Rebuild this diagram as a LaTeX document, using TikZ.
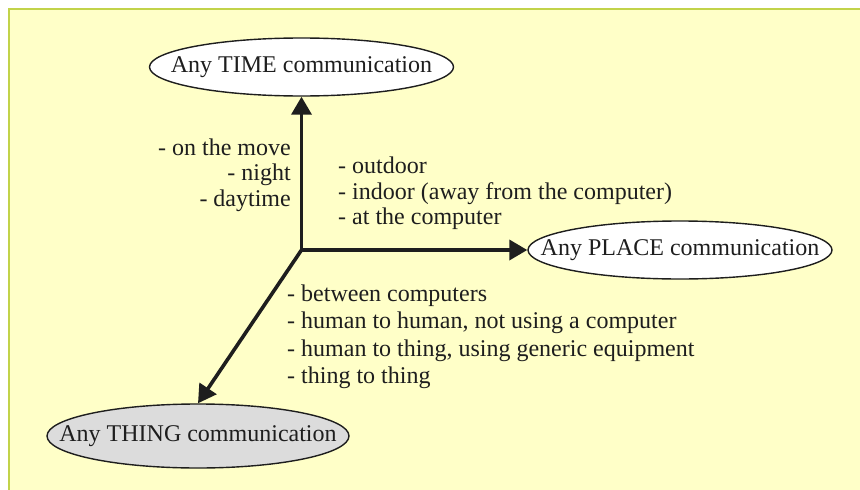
\documentclass[tikz,border=0pt]{standalone}
\usepackage{fontspec}
\setmainfont{Liberation Serif}
\usetikzlibrary{shapes.geometric,arrows.meta}
\definecolor{panelfill}{HTML}{FFFFC8}
\definecolor{panelrule}{HTML}{C2D34A}
\definecolor{ink}{HTML}{1E1E1E}
\definecolor{thingfill}{HTML}{DCDCDC}
\begin{document}
\begin{tikzpicture}[x=1pt,y=-1pt,
  font=\fontsize{24}{28}\selectfont,
  % tight ellipse: the minimum sizes fix the outline, not the text box
  goal/.style={ellipse, draw=ink, line width=1.4pt, minimum width=304pt,
    minimum height=58pt, inner xsep=-40pt, inner ysep=0pt, text=ink},
  axis/.style={line width=3.6pt, draw=ink, line cap=rect,
    -{Triangle[length=18pt,width=20pt]}},
  notes/.style={text=ink, inner sep=0pt}]
\useasboundingbox (0,0) rectangle (860,490);
\fill[white] (0,0) rectangle (860,490);
% panel
\draw[panelrule, fill=panelfill, line width=2pt] (9,9) rectangle (880,510);

% the three kinds of communication
\node[goal, fill=white] (time) at (301.5,67) {Any TIME communication};
\node[goal, fill=white] (place) at (680,250) {Any PLACE communication};
\node[goal, fill=thingfill, minimum width=302pt, minimum height=64pt] (thing)
  at (198,436) {Any THING communication};

% axes
\coordinate (origin) at (301.5,250);
\draw[axis] (origin) -- (time.south);
\draw[axis] (origin) -- (place.west);
\draw[axis] (origin) -- (thing.north);

% notes along each axis
\node[notes, anchor=east, align=right, font=\fontsize{24}{25.5}\selectfont]
  (timenotes) at (291,175) {- on the move\\- night\\- daytime};
\node[notes, anchor=west, align=left, font=\fontsize{24}{25.5}\selectfont]
  (placenotes) at (338,193.4)
  {- outdoor\\- indoor (away from the computer)\\- at the computer};
\node[notes, anchor=west, align=left, font=\fontsize{24}{27.5}\selectfont]
  (thingnotes) at (287,336.7)
  {- between computers\\- human to human, not using a computer\\- human to thing, using generic equipment\\- thing to thing};
\end{tikzpicture}
\end{document}
